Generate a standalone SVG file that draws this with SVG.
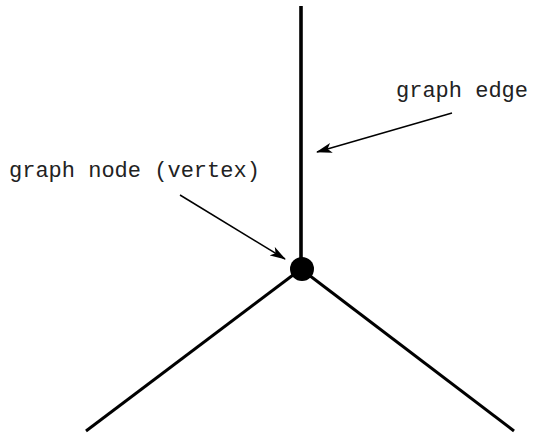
<svg xmlns="http://www.w3.org/2000/svg" width="533" height="435" viewBox="0 0 533 435">
<style>
.edge{stroke:#000;stroke-width:3;stroke-linecap:butt;fill:none}
.ptr{stroke:#000;stroke-width:1.5;fill:none;marker-end:url(#ah)}
.lbl{font-family:"Liberation Mono","Courier New",monospace;font-size:22px;fill:#222}
</style>
<defs>
<marker id="ah" viewBox="0 0 16 10" refX="15" refY="5" markerWidth="16" markerHeight="10" markerUnits="userSpaceOnUse" orient="auto">
<path d="M0,0 L16,5 L0,10 L4,5 Z" fill="#000"/>
</marker>
</defs>
<g id="connectors">
<line class="edge" x1="301" y1="6" x2="301" y2="268" style="stroke-width:3.6"/>
<line class="edge" x1="301" y1="269" x2="86" y2="431"/>
<line class="edge" x1="301" y1="269" x2="514" y2="431"/>
<line class="ptr" x1="180" y1="195" x2="285" y2="259"/>
<line class="ptr" x1="452" y1="113" x2="317" y2="152"/>
</g>
<g id="vertex">
<circle cx="302" cy="269" r="12" fill="#000"/>
</g>
<g id="label-node">
<text class="lbl" x="9" y="177">graph node (vertex)</text>
</g>
<g id="label-edge">
<text class="lbl" x="396" y="97">graph edge</text>
</g>
</svg>
